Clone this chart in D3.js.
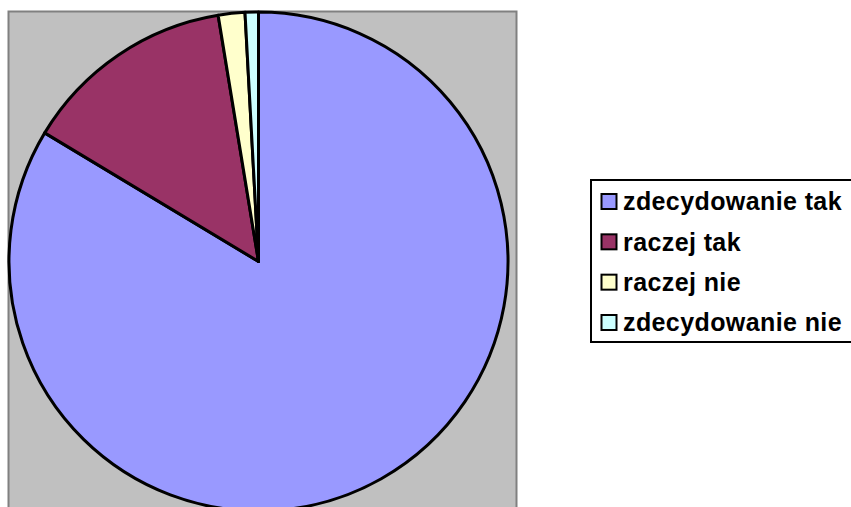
<!DOCTYPE html>
<html>
<head>
<meta charset="utf-8">
<script src="https://cdn.jsdelivr.net/npm/d3@7"></script>
<style>
  body { margin: 0; background: #fff; }
  svg { display: block; }
</style>
</head>
<body>
<div id="chart"></div>
<script>
const ancho = 851;
const alto = 507;

// odpowiedzi i liczebnosci
const kategorie = ["zdecydowanie tak", "raczej tak", "raczej nie", "zdecydowanie nie"];
const wartosci = [97, 16, 2, 1];
const kolory = ["#9999FF", "#993366", "#FFFFCC", "#CCFFFF"];

const svg = d3.select("#chart")
  .append("svg")
  .attr("width", ancho)
  .attr("height", alto);

// obszar wykresu (szary)
svg.append("rect")
  .attr("x", 8.5)
  .attr("y", 11.5)
  .attr("width", 508)
  .attr("height", 510)
  .attr("fill", "#C0C0C0")
  .attr("stroke", "#808080")
  .attr("stroke-width", 2);

const cx = 258.5, cy = 261.5, r = 249.5;

const kolor = d3.scaleOrdinal().domain(kategorie).range(kolory);

const pie = d3.pie()
  .value(d => d.v)
  .sort(null)
  .startAngle(0)
  .endAngle(2 * Math.PI);

const dane = kategorie.map((k, i) => ({ k: k, v: wartosci[i] }));

const arc = d3.arc().innerRadius(0).outerRadius(r);

svg.append("g")
  .attr("transform", `translate(${cx},${cy})`)
  .selectAll("path")
  .data(pie(dane))
  .enter()
  .append("path")
  .attr("d", arc)
  .attr("fill", d => kolor(d.data.k))
  .attr("stroke", "#000")
  .attr("stroke-width", 3)
  .attr("stroke-linejoin", "round");

// legenda
const leg = svg.append("g");
leg.append("rect")
  .attr("x", 591)
  .attr("y", 180)
  .attr("width", 262)
  .attr("height", 162)
  .attr("fill", "#fff")
  .attr("stroke", "#000")
  .attr("stroke-width", 2);

const wiersz = d3.scalePoint().domain(kategorie).range([201.5, 322.5]);

const pozycje = leg.selectAll(".item")
  .data(kategorie)
  .enter()
  .append("g")
  .attr("class", "item")
  .attr("transform", d => `translate(0,${wiersz(d)})`);

pozycje.append("rect")
  .attr("x", 601.5)
  .attr("y", -7.5)
  .attr("width", 15)
  .attr("height", 15)
  .attr("fill", d => kolor(d))
  .attr("stroke", "#000")
  .attr("stroke-width", 2);

pozycje.append("text")
  .attr("x", 623)
  .attr("dy", "0.35em")
  .attr("font-family", "Liberation Sans, Arial, sans-serif")
  .attr("font-weight", "bold")
  .attr("font-size", 25)
  .attr("letter-spacing", 0.4)
  .attr("fill", "#000")
  .text(d => d);
</script>
</body>
</html>
